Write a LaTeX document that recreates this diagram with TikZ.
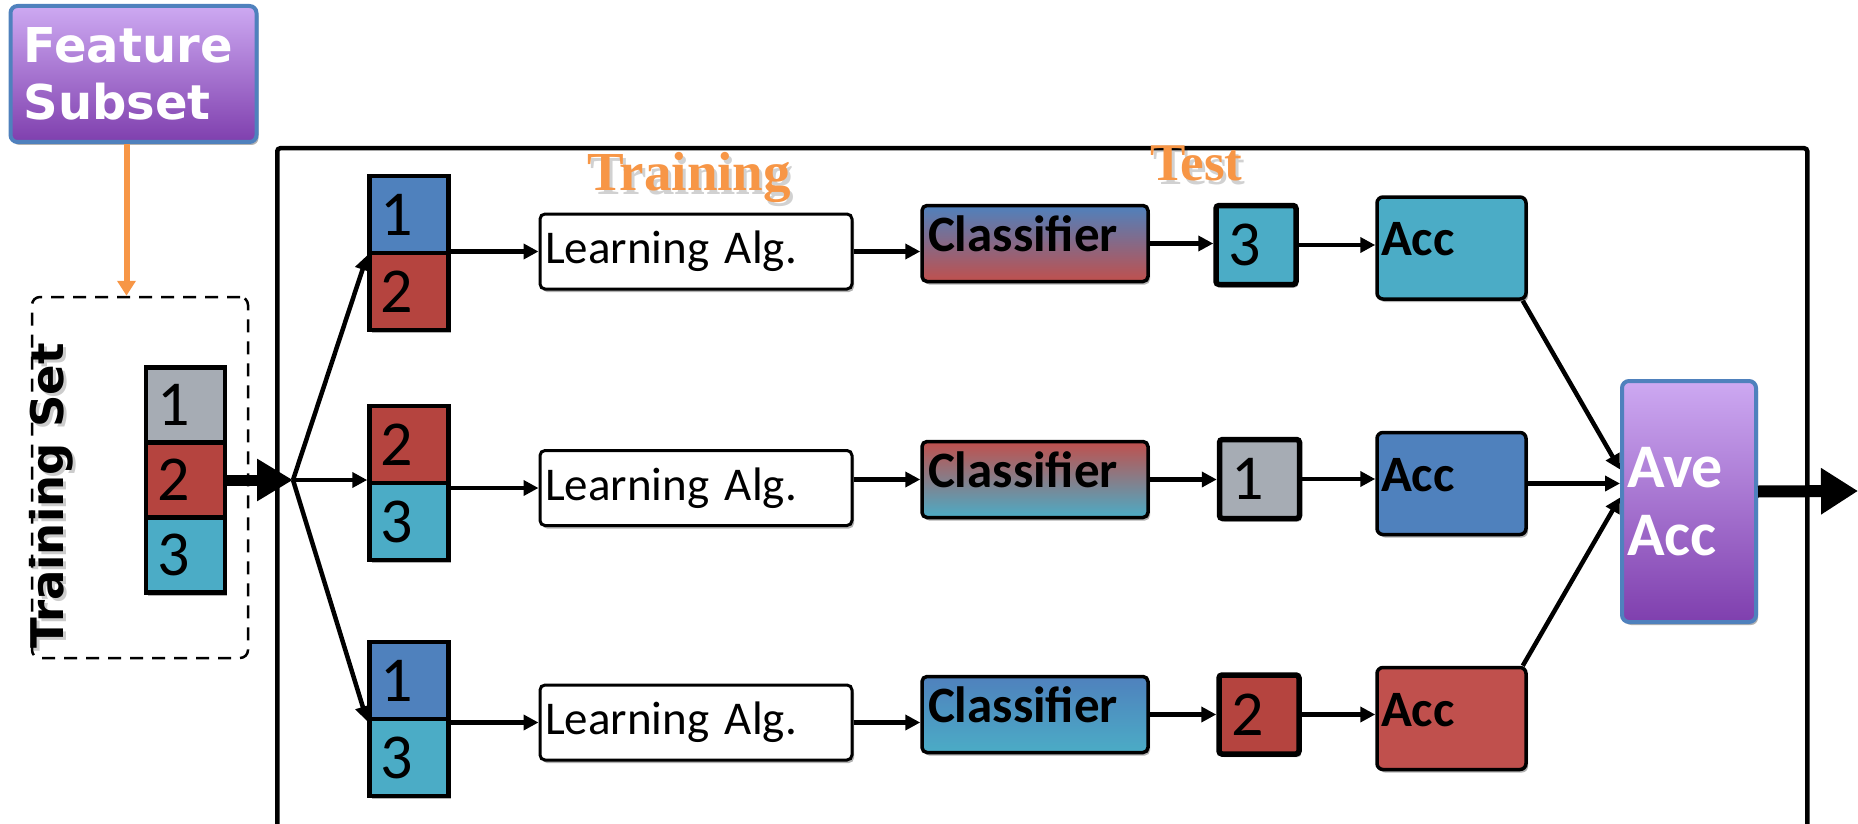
\documentclass[tikz,border=0pt]{standalone}
\usepackage{fontspec}
\usetikzlibrary{arrows.meta,shadows}
\newfontfamily\calibri{Carlito}
\newfontfamily\verdana{DejaVu Sans}
\newfontfamily\serifb{Liberation Serif}
\newcommand\digitfont{\calibri\fontsize{64}{70}\selectfont}
\definecolor{accblue}{HTML}{4F81BD}
\definecolor{accred}{HTML}{C0504D}
\definecolor{darkred}{HTML}{B5443F}
\definecolor{accteal}{HTML}{4BACC6}
\definecolor{accgray}{HTML}{A6ACB4}
\definecolor{lilac}{HTML}{CDA9F2}
\definecolor{plum}{HTML}{7F3FAE}
\definecolor{tangerine}{HTML}{F79646}
\begin{document}
\begin{tikzpicture}[x=1pt,y=-1pt,
  boxshadow/.style={drop shadow={shadow xshift=2pt,shadow yshift=-3pt,opacity=0.3,fill=black}},
  flowarr/.style={draw=black,line width=4.5pt,-{Triangle[length=15pt,width=15pt]}},
  bigarr/.style={draw=black,line width=11pt,-{Triangle[length=36pt,width=40pt]}},
  dcell/.style={draw=black,line width=4.5pt,minimum width=79pt,minimum height=77pt,inner xsep=11pt,inner ysep=0pt,text width=57pt,align=left,font=\digitfont,boxshadow},
  labox/.style={draw=black,line width=3pt,rounded corners=5pt,fill=white,minimum width=312pt,minimum height=75pt,inner xsep=5pt,inner ysep=0pt,text width=302pt,align=left,font=\calibri\fontsize{47}{52}\selectfont,boxshadow},
  clsbox/.style={draw=black,line width=3.5pt,rounded corners=5pt,minimum width=226pt,minimum height=76pt,inner xsep=6pt,inner ysep=0pt,text width=214pt,align=left,text depth=20pt,font=\calibri\bfseries\fontsize{51}{56}\selectfont,boxshadow},
  testbox/.style={draw=black,line width=5.5pt,rounded corners=3pt,minimum width=80pt,minimum height=79pt,inner xsep=12pt,inner ysep=0pt,text width=56pt,align=left,font=\digitfont,boxshadow},
  accbox/.style={draw=black,line width=3.5pt,rounded corners=6pt,minimum width=149pt,minimum height=102pt,inner xsep=4pt,inner ysep=0pt,text width=141pt,align=left,text depth=18pt,font=\calibri\bfseries\fontsize{51}{56}\selectfont,boxshadow},
  purplebox/.style={draw=accblue,line width=4pt,rounded corners=7pt,top color=lilac,bottom color=plum,text=white,inner ysep=0pt,align=left,boxshadow},
  orangelabel/.style={inner sep=0pt,anchor=base west,text=tangerine},
  labelshadow/.style={inner sep=0pt,anchor=base west,text=black,opacity=0.18}
]
\useasboundingbox (0,0) rectangle (1858,824);
\clip (0,0) rectangle (1858,824);

% outer frame (runs past the lower edge)
\node[draw,line width=4.5pt,rounded corners=3pt,anchor=north west,minimum width=1530pt,minimum height=760pt,inner sep=0pt] (frame) at (275,146) {};

% feature subset and training set
\node[purplebox,minimum width=246pt,minimum height=136pt,inner xsep=13pt,text width=220pt,font=\verdana\bfseries\fontsize{48}{57}\selectfont] (feat) at (133.5,74) {Feature\\Subset};
\node[draw,line width=2.5pt,dash pattern=on 13pt off 9pt,rounded corners=8pt,minimum width=216pt,minimum height=361pt,inner sep=0pt] (tsbox) at (140,477.5) {};
\node[rotate=90,anchor=base,inner sep=0pt,text=black,opacity=0.2,font=\verdana\bfseries\fontsize{45}{50}\selectfont] (tsshadow) at (66,499) {Training Set};
\node[rotate=90,anchor=base,inner sep=0pt,font=\verdana\bfseries\fontsize{45}{50}\selectfont] (tslabel) at (63,496) {Training Set};

\node[dcell,fill=accgray,minimum height=75pt] (ts1) at (185.5,405) {1};
\node[dcell,fill=darkred,minimum height=75pt] (ts2) at (185.5,480) {2};
\node[dcell,fill=accteal,minimum height=75pt] (ts3) at (185.5,555) {3};

% folds
\node[dcell,fill=accblue] (p1a) at (409,214.5) {1};
\node[dcell,fill=darkred] (p1b) at (409,291.5) {2};
\node[dcell,fill=darkred] (p2a) at (409,444.5) {2};
\node[dcell,fill=accteal] (p2b) at (409,521.5) {3};
\node[dcell,fill=accblue] (p3a) at (409,680.5) {1};
\node[dcell,fill=accteal] (p3b) at (409,757.5) {3};

% learning algorithms
\node[labox] (la1) at (696,251.5) {Learning Alg.};
\node[labox] (la2) at (696,488) {Learning Alg.};
\node[labox] (la3) at (696,722.5) {Learning Alg.};

% classifiers
\node[clsbox,top color=accblue,bottom color=accred] (cls1) at (1035,243.5) {Classifier};
\node[clsbox,top color=accred,bottom color=accteal] (cls2) at (1035,479.5) {Classifier};
\node[clsbox,top color=accblue,bottom color=accteal] (cls3) at (1035,714.5) {Classifier};

% held-out folds
\node[testbox,fill=accteal] (t1) at (1256,245) {3};
\node[testbox,fill=accgray] (t2) at (1259.5,479) {1};
\node[testbox,fill=darkred] (t3) at (1259,714.5) {2};

% accuracies
\node[accbox,fill=accteal] (a1) at (1451.5,248) {Acc};
\node[accbox,fill=accblue] (a2) at (1451.5,483.5) {Acc};
\node[accbox,fill=accred] (a3) at (1451.5,718.5) {Acc};

\node[purplebox,minimum width=134pt,minimum height=241pt,inner xsep=5pt,text width=124pt,font=\calibri\bfseries\fontsize{62}{68}\selectfont] (ave) at (1689,501.5) {Ave\\Acc};

% section labels
\node[labelshadow,font=\serifb\bfseries\fontsize{55}{60}\selectfont] (trainshadow) at (590,194) {Training};
\node[orangelabel,font=\serifb\bfseries\fontsize{55}{60}\selectfont] (trainlabel) at (587,190) {Training};
\node[labelshadow,font=\serifb\bfseries\fontsize{53}{58}\selectfont] (testshadow) at (1153,184) {Test};
\node[orangelabel,font=\serifb\bfseries\fontsize{53}{58}\selectfont] (testlabel) at (1150,180) {Test};

% connectors
\coordinate (J) at (293,480);
\coordinate (outend) at (1858,491);
\draw[draw=tangerine,line width=6pt,-{Triangle[length=15pt,width=18pt]}] ([xshift=-7pt]feat.south) -- ([xshift=-7pt]feat.south |- tsbox.north);
\draw[bigarr] (ts2.east) -- (J);
\draw[flowarr] (J) -- (p1a.south west);
\draw[flowarr] (J) -- (J -| p2a.west);
\draw[flowarr] (J) -- (p3a.south west);

\draw[flowarr] (la1.west -| p1a.east) -- (la1.west);
\draw[flowarr] (la2.west -| p2a.east) -- (la2.west);
\draw[flowarr] (la3.west -| p3a.east) -- (la3.west);

\draw[flowarr] (la1.east) -- (la1.east -| cls1.west);
\draw[flowarr] (cls2.west -| la2.east) -- (cls2.west);
\draw[flowarr] (la3.east) -- (la3.east -| cls3.west);

\draw[flowarr] (cls1.east) -- (cls1.east -| t1.west);
\draw[flowarr] (cls2.east) -- (cls2.east -| t2.west);
\draw[flowarr] (cls3.east) -- (cls3.east -| t3.west);

\draw[flowarr] (t1.east) -- (t1.east -| a1.west);
\draw[flowarr] (t2.east) -- (t2.east -| a2.west);
\draw[flowarr] (t3.east) -- (t3.east -| a3.west);

\draw[flowarr] ([xshift=-5pt]a1.south east) -- ([yshift=32pt]ave.west);
\draw[flowarr] (a2.east) -- (a2.east -| ave.west);
\draw[flowarr] ([xshift=-5pt]a3.north east) -- ([yshift=4pt]ave.west);
\draw[draw=black,line width=12pt,-{Triangle[length=37pt,width=44pt]}] ([yshift=10pt]ave.east) -- (outend);
\end{tikzpicture}
\end{document}
